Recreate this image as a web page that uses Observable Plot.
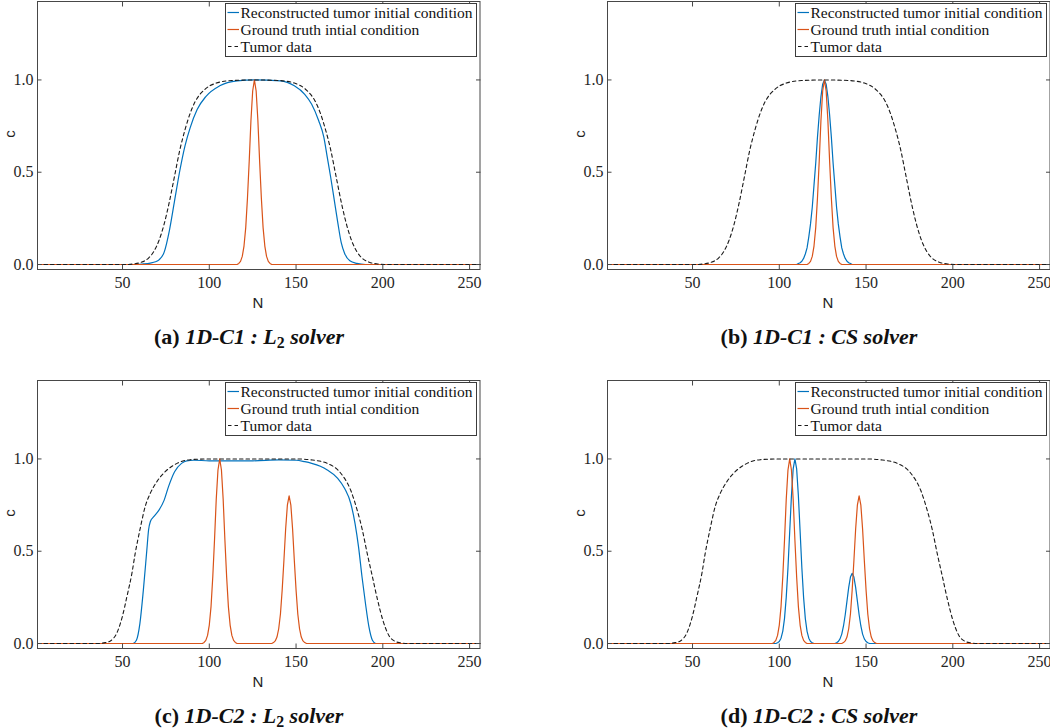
<!DOCTYPE html>
<html>
<head>
<meta charset="utf-8">
<script src="https://cdn.jsdelivr.net/npm/d3@7"></script>
<script src="https://cdn.jsdelivr.net/npm/@observablehq/plot@0.6"></script>
<style>
  html, body { margin: 0; padding: 0; background: #fff; }
  #root { position: relative; width: 1050px; height: 728px; overflow: hidden; background: #fff; }
  .panel { position: absolute; }
  #root svg text { font-family: "Liberation Serif", serif !important; font-size: 16px !important; fill: #262626; }
  .legend { position: absolute; width: 252px; height: 54px; border: 1px solid #3c3c3c; background: #fff; box-sizing: border-box;
            font-family: "Liberation Serif", serif; font-size: 15.5px; color: #111; }
  .legend .row { position: absolute; left: 1px; height: 17px; line-height: 17px; white-space: nowrap; display: flex; align-items: center; }
  .legend .row span { margin-left: 2px; }
  .xlab { position: absolute; font-family: "Liberation Sans", sans-serif; font-size: 15px; color: #222; transform: translate(-50%, -50%); line-height: 1; }
  .ylab { position: absolute; font-family: "Liberation Sans", sans-serif; font-size: 15px; color: #222; transform: translate(-50%, -50%) rotate(-90deg); line-height: 0.6; }
  .cap { position: absolute; font-family: "Liberation Serif", serif; font-weight: bold; font-size: 22px; line-height: 1; color: #111; white-space: nowrap; transform: translate(-50%, -50%); }
  .cap sub { font-size: 0.72em; vertical-align: -0.25em; line-height: 0; }
</style>
</head>
<body>
<div id="root"></div>
<script>
// ---------------- data ----------------
const xTicks = [50, 100, 150, 200, 250];
const yTicks = [0, 0.5, 1];
const xDomain = [1, 256];
const yDomain = [-0.027, 1.425];

const legendLabels = ["Reconstructed tumor initial condition", "Ground truth intial condition", "Tumor data"];
const captions = [
  ["(a)", "1D-C1 : ", "L", "2", " solver"],
  ["(b)", "1D-C1 : CS solver", "", "", ""],
  ["(c)", "1D-C2 : ", "L", "2", " solver"],
  ["(d)", "1D-C2 : CS solver", "", "", ""]
];

// Tumor data, case C1 (panels a, b)
const tumorC1 = [[1,0],[52,0],[56,0.003],[60,0.01],[65,0.035],[68,0.07],[71,0.13],[74,0.22],[77,0.34],[80,0.48],[83,0.62],[86,0.73],[89,0.82],[92,0.885],[97,0.945],[104,0.983],[113,0.997],[126,1],
  [140,0.997],[149,0.983],[156,0.945],[161,0.885],[164,0.82],[167,0.73],[170,0.62],[173,0.48],[176,0.34],[179,0.22],[182,0.13],[185,0.07],[188,0.035],[193,0.01],[197,0.003],[201,0],[256,0]];

// Reconstructed, panel a (L2 solver)
const reconA = [[1,0],[58,0],[62,0.003],[66,0.008],[69,0.015],[71,0.025],[74,0.067],[77,0.184],[80,0.346],[83,0.508],[86,0.643],[89,0.742],[93,0.84],[98,0.91],[106,0.968],[116,0.995],[126,1],
  [141,0.995],[149,0.968],[155,0.922],[159,0.868],[163,0.78],[166,0.69],[168,0.58],[170,0.47],[172,0.35],[174,0.23],[176,0.12],[178,0.06],[181,0.02],[185,0.006],[190,0],[256,0]];

// Ground truth, case C1
const truthC1 = [[1,0],[116,0],[117,0.006],[118,0.017],[119,0.044],[120,0.1],[121,0.2],[122,0.36],[123,0.56],[124,0.78],[125,0.94],[126,1],
  [127,0.94],[128,0.78],[129,0.56],[130,0.36],[131,0.2],[132,0.1],[133,0.044],[134,0.017],[135,0.006],[136,0],[256,0]];

// Reconstructed, panel b (CS solver)
const reconB = [[1,0],[110,0],[111,0.005],[112,0.01],[113,0.018],[114,0.033],[115,0.057],[116,0.09],[117,0.15],[118,0.22],[119,0.31],[120,0.43],[121,0.55],[122,0.69],[123,0.81],[124,0.91],[125,0.977],[126,1],
  [127,0.977],[128,0.91],[129,0.81],[130,0.69],[131,0.55],[132,0.43],[133,0.31],[134,0.22],[135,0.15],[136,0.09],[137,0.057],[138,0.033],[139,0.018],[140,0.01],[141,0.005],[142,0],[256,0]];

// Tumor data, case C2 (panels c, d)
const tumorC2 = [[1,0],[36,0],[40,0.005],[43,0.014],[47,0.063],[50,0.15],[52.5,0.253],[55.4,0.38],[57.3,0.488],[60.2,0.624],[63,0.74],[66,0.814],[70,0.88],[74.6,0.931],[81.4,0.976],[89,0.996],[100,1],[150,1],
  [158.6,0.995],[168,0.976],[176,0.92],[181.5,0.83],[185.3,0.72],[188.2,0.615],[191,0.488],[194,0.362],[197,0.235],[200,0.127],[203.4,0.045],[207,0.012],[210,0.004],[214,0],[256,0]];

// Reconstructed, panel c (L2 solver)
const reconC = [[1,0],[56,0],[58,0.018],[60,0.108],[62,0.289],[64,0.506],[65,0.615],[66,0.66],[68,0.687],[71,0.723],[74,0.777],[76.5,0.85],[80,0.931],[84,0.976],[87,0.99],[91,0.993],[100,0.99],[125,0.99],[140,0.995],
  [150,0.993],[155,0.985],[159,0.976],[164,0.96],[168,0.94],[174,0.895],[178,0.84],[181.5,0.76],[184,0.65],[186,0.524],[188,0.362],[190,0.217],[192,0.09],[194,0.018],[196,0],[256,0]];

// Ground truth, case C2
const truthC2 = [[1,0],[96,0],[97,0.006],[98,0.017],[99,0.044],[100,0.1],[101,0.2],[102,0.36],[103,0.56],[104,0.78],[105,0.94],[106,1],
  [107,0.94],[108,0.78],[109,0.56],[110,0.36],[111,0.2],[112,0.1],[113,0.044],[114,0.017],[115,0.006],[116,0],
  [136,0],[137,0.005],[138,0.014],[139,0.035],[140,0.08],[141,0.16],[142,0.29],[143,0.45],[144,0.62],[145,0.75],[146,0.8],
  [147,0.75],[148,0.62],[149,0.45],[150,0.29],[151,0.16],[152,0.08],[153,0.035],[154,0.014],[155,0.005],[156,0],[256,0]];

// Reconstructed, panel d (CS solver)
const reconD = [[1,0],[98,0],[99,0.004],[100,0.011],[101,0.029],[102,0.066],[103,0.135],[104,0.25],[105,0.41],[106,0.607],[107,0.8],[108,0.946],[109,1],
  [110,0.946],[111,0.8],[112,0.607],[113,0.41],[114,0.25],[115,0.135],[116,0.066],[117,0.029],[118,0.011],[119,0.004],[120,0],
  [132,0],[133,0.004],[134,0.011],[135,0.025],[136,0.051],[137,0.095],[138,0.156],[139,0.23],[140,0.304],[141,0.36],[142,0.38],
  [143,0.36],[144,0.304],[145,0.23],[146,0.156],[147,0.095],[148,0.051],[149,0.025],[150,0.011],[151,0.004],[152,0],[256,0]];

// ---------------- layout / style ----------------
const BLUE = "#0072BD", ORANGE = "#D95319", DASH = "#1a1a1a", AXIS = "#474747";

const panels = [
  {left: 0,   top: 0,   recon: reconA, recCurve: "monotone-x", truth: truthC1, tumor: tumorC1, cap: captions[0]},
  {left: 570, top: 0,   recon: reconB, recCurve: "linear",     truth: truthC1, tumor: tumorC1, cap: captions[1]},
  {left: 0,   top: 379, recon: reconC, recCurve: "monotone-x", truth: truthC2, tumor: tumorC2, cap: captions[2]},
  {left: 570, top: 379, recon: reconD, recCurve: "linear",     truth: truthC2, tumor: tumorC2, cap: captions[3]}
];

const root = document.getElementById("root");
const toRows = arr => arr.map(([N, c]) => ({N, c}));

function addDiv(cls, left, top, html) {
  const d = document.createElement("div");
  d.className = cls;
  d.style.left = left + "px";
  d.style.top = top + "px";
  d.innerHTML = html;
  root.appendChild(d);
  return d;
}

for (const p of panels) {
  const tickOpts = {tickSize: -4.5, tickFormat: () => "", label: null, stroke: AXIS};
  const chart = Plot.plot({
    width: 482, height: 300,
    marginLeft: 37, marginRight: 2.5, marginTop: 1, marginBottom: 31,
    x: {domain: xDomain, label: null},
    y: {domain: yDomain, label: null},
    style: {fontFamily: "'Liberation Serif', serif", fontSize: "16px", color: "#262626", background: "transparent", overflow: "visible"},
    marks: [
      Plot.line(toRows(p.recon), {x: "N", y: "c", stroke: BLUE, strokeWidth: 1.2, curve: p.recCurve}),
      Plot.line(toRows(p.truth), {x: "N", y: "c", stroke: ORANGE, strokeWidth: 1.2, curve: "linear"}),
      Plot.line(toRows(p.tumor), {x: "N", y: "c", stroke: DASH, strokeWidth: 1.1, strokeDasharray: "3.5,3", curve: "monotone-x"}),
      Plot.frame({stroke: AXIS, strokeWidth: 1}),
      Plot.axisX(xTicks, {anchor: "bottom", ...tickOpts}),
      Plot.axisX(xTicks, {anchor: "top", ...tickOpts}),
      Plot.axisY(yTicks, {anchor: "left", ...tickOpts}),
      Plot.axisY(yTicks, {anchor: "right", ...tickOpts}),
      Plot.axisX(xTicks, {anchor: "bottom", tickSize: 0, tickPadding: 7, label: null, fontFamily: "Liberation Serif"}),
      Plot.axisY(yTicks, {anchor: "left", tickSize: 0, tickPadding: 4, label: null, fontFamily: "Liberation Serif", tickFormat: d => d.toFixed(1)})
    ]
  });
  chart.classList.add("panel");
  chart.style.left = p.left + "px";
  chart.style.top = p.top + "px";
  root.appendChild(chart);

  // axis titles
  addDiv("xlab", p.left + 258, p.top + 302, "N");
  addDiv("ylab", p.left + 9, p.top + 134, "c");

  // legend
  const lg = addDiv("legend", p.left + 224.5, p.top + 2.5, "");
  const samples = [
    `<line x1="0.5" y1="8.5" x2="12" y2="8.5" stroke="${BLUE}" stroke-width="1.2"/>`,
    `<line x1="0.5" y1="8.5" x2="12" y2="8.5" stroke="${ORANGE}" stroke-width="1.2"/>`,
    `<line x1="1" y1="8.5" x2="12" y2="8.5" stroke="${DASH}" stroke-width="1.1" stroke-dasharray="3.5,3"/>`
  ];
  legendLabels.forEach((t, i) => {
    const r = document.createElement("div");
    r.className = "row";
    r.style.top = (0 + 17.4 * i) + "px";
    r.innerHTML = `<svg width="12" height="17">${samples[i]}</svg><span>${t}</span>`;
    lg.appendChild(r);
  });

  // caption
  const [lab, a, L, sub, b] = p.cap;
  const html = L ? `${lab} <i>${a}${L}</i><sub>${sub}</sub><i>${b}</i>` : `${lab} <i>${a}</i>`;
  addDiv("cap", p.left + 249, p.top + 336.5, html);
}
</script>
</body>
</html>
